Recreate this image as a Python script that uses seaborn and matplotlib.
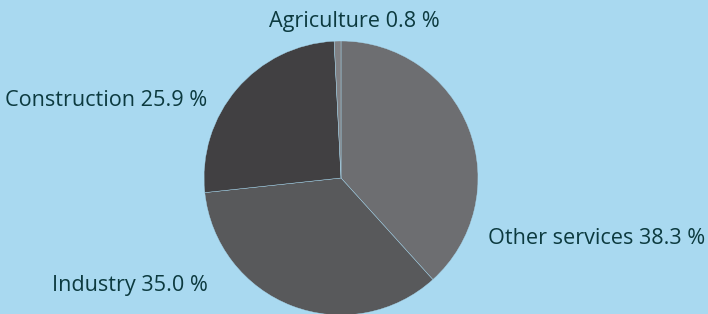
import matplotlib
matplotlib.use("Agg")
import matplotlib.pyplot as plt
import seaborn as sns

# data
sectors = ['Other services', 'Industry', 'Construction', 'Agriculture']
shares = [38.3, 35.0, 25.9, 0.8]
colors = ['#6d6e71', '#58595b', '#414042', '#808083']

BG = '#a9d9f0'
TXT = '#0c3a3f'

sns.set_theme(style='white')
plt.rcParams['font.family'] = ['Open Sans', 'DejaVu Sans']

fig = plt.figure(figsize=(7.08, 3.14), dpi=100, facecolor=BG)
ax = fig.add_axes([0, 0, 1, 1])
ax.set_facecolor(BG)

# pie drawn in pixel-like coordinates
ax.pie(shares, colors=colors, startangle=90, counterclock=False,
       center=(341, 136), radius=137,
       wedgeprops=dict(edgecolor=BG, linewidth=0.3))
ax.set_xlim(0, 708)
ax.set_ylim(0, 314)
ax.set_aspect('equal')
ax.axis('off')

# labels
lab = [f'{s} {v:.1f} %' for s, v in zip(sectors, shares)]
fs = 15.6
ax.text(488, 75, lab[0], ha='left', va='center', fontsize=fs, color=TXT)
ax.text(208, 28, lab[1], ha='right', va='center', fontsize=fs, color=TXT)
ax.text(207, 213, lab[2], ha='right', va='center', fontsize=fs, color=TXT)
ax.text(354, 292, lab[3], ha='center', va='center', fontsize=fs, color=TXT)

fig.savefig('out.png', dpi=100, facecolor=BG)
